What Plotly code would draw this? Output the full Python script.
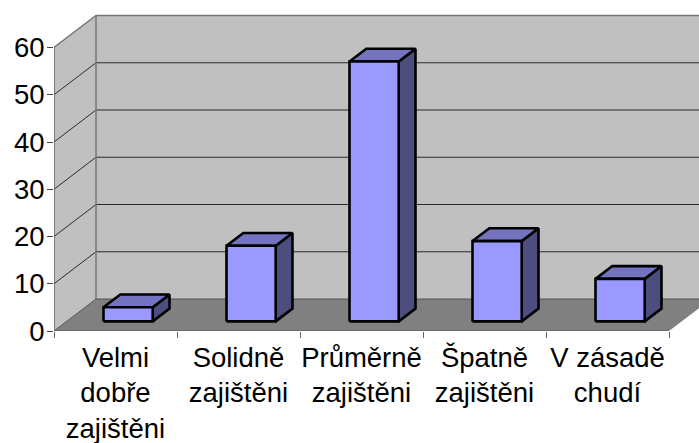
import plotly.graph_objects as go

categories = ["Velmi<br>dobře<br>zajištěni", "Solidně<br>zajištěni", "Průměrně<br>zajištěni",
              "Špatně<br>zajištěni", "V zásadě<br>chudí"]
values = [3, 16, 55, 17, 9]
y_ticks = [0, 10, 20, 30, 40, 50, 60]

PX_X, PX_Y = 123.0, 4.725
L, T, B, W, H = 54, 13, 112, 699, 443
DX, DY = 42 / PX_X, 32 / PX_Y
BAR_W = 0.4
D0, D1 = 0.3, 0.7
WALL, FLOOR = "#C0C0C0", "#808080"
FRONT, TOP, SIDE = "#9999FF", "#7373BF", "#4D4D80"
n = len(values)
ymax = y_ticks[-1]


def poly(pts, fill=None, line=None, width=1):
    xs = [p[0] for p in pts]
    ys = [p[1] for p in pts]
    return go.Scatter(
        x=xs, y=ys, mode="lines", hoverinfo="skip", showlegend=False,
        fill="toself" if fill else "none", fillcolor=fill,
        line=dict(color=line or "rgba(0,0,0,0)", width=width if line else 0),
    )


fig = go.Figure()
# walls and floor
fig.add_trace(poly([(0, 0), (DX, DY), (DX, ymax + DY), (0, ymax), (0, 0)], WALL))
fig.add_trace(poly([(DX, DY), (n + DX, DY), (n + DX, ymax + DY), (DX, ymax + DY), (DX, DY)], WALL))
fig.add_trace(poly([(0, 0), (n, 0), (n + DX, DY), (DX, DY), (0, 0)], FLOOR))

# gridlines
gx, gy = [], []
for t in y_ticks[1:-1]:
    gx += [0, DX, n + DX, None]
    gy += [t, t + DY, t + DY, None]
fig.add_trace(go.Scatter(x=gx, y=gy, mode="lines", hoverinfo="skip", showlegend=False,
                         line=dict(color="#2b2b2b", width=1)))
# wall frame
fig.add_trace(poly([(0, ymax), (DX, ymax + DY), (n + DX, ymax + DY)], None, "#777777", 1.5))
fig.add_trace(poly([(DX, DY), (DX, ymax + DY)], None, "#777777", 1.5))
fig.add_trace(poly([(0, 0), (DX, DY), (n + DX, DY)], None, "#555555", 1))
# front axes
fig.add_trace(poly([(0, 0), (0, ymax)], None, "#666666", 1.5))
fig.add_trace(poly([(0, 0), (n, 0)], None, "#666666", 1.5))

# bars
for i, v in enumerate(values):
    x0 = i + 0.5 - BAR_W / 2 + D0 * DX
    x1 = x0 + BAR_W
    y0 = D0 * DY
    ox = (D1 - D0) * DX
    oy = (D1 - D0) * DY
    fig.add_trace(poly([(x1, y0), (x1 + ox, y0 + oy), (x1 + ox, y0 + oy + v), (x1, y0 + v), (x1, y0)], SIDE, "#000000", 2.6))
    fig.add_trace(poly([(x0, y0 + v), (x1, y0 + v), (x1 + ox, y0 + oy + v), (x0 + ox, y0 + oy + v), (x0, y0 + v)], TOP, "#000000", 2.6))
    fig.add_trace(poly([(x0, y0), (x1, y0), (x1, y0 + v), (x0, y0 + v), (x0, y0)], FRONT, "#000000", 2.6))

fig.update_layout(
    width=W, height=H, margin=dict(l=L, r=0, t=T, b=B, pad=0),
    paper_bgcolor="white", plot_bgcolor="white", showlegend=False,
    font=dict(family="Liberation Sans, Arial, sans-serif", size=27.5, color="#000000"),
    xaxis=dict(
        range=[0, (W - L) / PX_X], showgrid=False, zeroline=False, showline=False,
        automargin=False,
        tickmode="array", tickvals=[i + 0.5 for i in range(n)], ticktext=categories,
        ticks="", tickangle=0, ticklabelstandoff=7,
        minor=dict(tickmode="array", tickvals=list(range(n + 1)), ticks="outside",
                   ticklen=6, tickcolor="#666666", tickwidth=1, showgrid=False),
    ),
    yaxis=dict(
        range=[0, (H - T - B) / PX_Y], showgrid=False, zeroline=False, showline=False,
        automargin=False,
        tickmode="array", tickvals=y_ticks, ticks="outside", ticklen=6,
        tickcolor="#444444", tickwidth=1, ticklabelstandoff=-3,
    ),
)
fig.write_html("out.html", config={"displayModeBar": False},
               post_script="document.body.style.margin='0';")
